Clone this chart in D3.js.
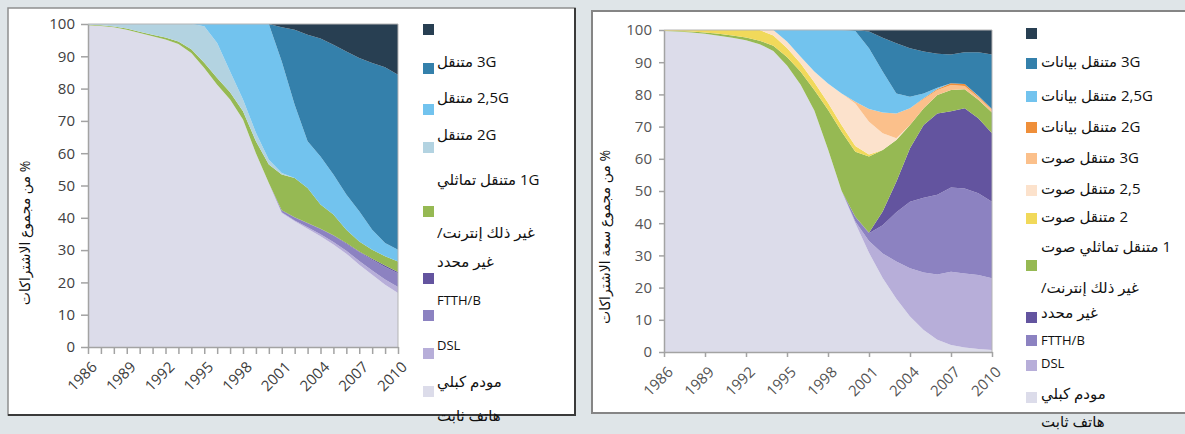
<!DOCTYPE html>
<html>
<head>
<meta charset="utf-8">
<title>Subscriptions share</title>
<script src="https://d3js.org/d3.v7.min.js"></script>
<style>
  body { margin: 0; background: #dfe5e8; }
  svg { display: block; }
</style>
</head>
<body>
<svg id="chart" width="1185" height="434"></svg>
<script>
// ---- data ----
var years = [1986, 1987, 1988, 1989, 1990, 1991, 1992, 1993, 1994, 1995, 1996, 1997, 1998,
             1999, 2000, 2001, 2002, 2003, 2004, 2005, 2006, 2007, 2008, 2009, 2010];
var xLabelYears = [1986, 1989, 1992, 1995, 1998, 2001, 2004, 2007, 2010];
var yTicks = [0, 10, 20, 30, 40, 50, 60, 70, 80, 90, 100];

// left chart: % of subscriptions
var leftFixed = [99.6, 99.4, 99.0, 98.2, 97.2, 96.2, 95.2, 93.8, 91.0, 86.4, 81.2, 76.6, 70.4, 60.0, 50.8, 41.5, 38.9, 36.6, 34.3, 31.7, 28.9, 25.5, 22.4, 19.3, 16.7];
var leftCable = [0, 0, 0, 0, 0, 0, 0, 0, 0, 0, 0, 0, 0, 0, 0, 0.2, 0.3, 0.5, 0.6, 0.8, 0.9, 1.1, 1.3, 1.6, 1.9];
var leftDSL   = [0, 0, 0, 0, 0, 0, 0, 0, 0, 0, 0, 0, 0, 0, 0, 0.5, 0.9, 1.2, 1.6, 2.0, 2.2, 2.8, 3.3, 3.9, 4.2];
var leftFTTH  = [0, 0, 0, 0, 0, 0, 0, 0, 0, 0, 0, 0, 0, 0, 0, 0.1, 0.1, 0.1, 0.1, 0.1, 0.2, 0.2, 0.3, 0.4, 0.4];
var leftOther = [0.2, 0.2, 0.2, 0.4, 0.4, 0.5, 0.6, 0.8, 1.2, 1.6, 2.1, 2.3, 2.6, 3.7, 5.7, 11.1, 12.1, 10.8, 7.5, 6.4, 4.1, 3.1, 2.8, 2.9, 3.3];
var left1G    = [0.2, 0.4, 0.8, 1.4, 2.4, 3.3, 4.2, 5.4, 7.8, 11.3, 10.8, 6.4, 3.6, 2.6, 1.5, 0.5, 0, 0, 0, 0, 0, 0, 0, 0, 0];
var left2G    = [0, 0, 0, 0, 0, 0, 0, 0, 0, 0.7, 5.9, 14.7, 23.4, 33.7, 42.0, 34.5, 22.7, 14.5, 14.9, 12.4, 10.9, 9.3, 6.2, 4.1, 3.6];
var left25G   = [0, 0, 0, 0, 0, 0, 0, 0, 0, 0, 0, 0, 0, 0, 0, 10.6, 23.2, 33.0, 36.5, 40.2, 44.3, 47.5, 51.6, 54.4, 54.2];
var left3G    = [0, 0, 0, 0, 0, 0, 0, 0, 0, 0, 0, 0, 0, 0, 0, 1.0, 1.8, 3.3, 4.5, 6.4, 8.5, 10.5, 12.1, 13.4, 15.7];

// right chart: % of subscription capacity
var rightFixed   = [99.7, 99.5, 99.2, 98.8, 98.2, 97.6, 96.8, 95.6, 93.5, 89.0, 83.0, 75.0, 63.0, 50.0, 40.0, 30.8, 23.0, 16.5, 11.0, 6.8, 3.8, 2.2, 1.4, 0.9, 0.6];
var rightCable   = [0, 0, 0, 0, 0, 0, 0, 0, 0, 0, 0, 0, 0, 0, 0.5, 3.7, 7.6, 11.6, 15.0, 17.9, 20.3, 22.7, 23.0, 23.0, 22.3];
var rightDSL     = [0, 0, 0, 0, 0, 0, 0, 0, 0, 0, 0, 0, 0, 0, 1.5, 2.4, 8.8, 15.3, 20.7, 23.2, 24.7, 26.2, 26.4, 25.4, 23.8];
var rightFTTH    = [0, 0, 0, 0, 0, 0, 0, 0, 0, 0, 0, 0, 0, 0, 0, 0.1, 4.2, 9.5, 16.6, 22.6, 25.3, 23.7, 24.9, 23.3, 21.2];
var rightOther   = [0.1, 0.2, 0.3, 0.4, 0.6, 0.7, 0.9, 1.1, 1.6, 2.6, 4.0, 6.4, 12.2, 18.4, 20.2, 23.7, 19.1, 12.9, 7.2, 5.2, 5.7, 6.6, 5.9, 5.7, 6.5];
var rightVoice1  = [0.2, 0.3, 0.5, 0.8, 1.2, 1.7, 2.3, 3.3, 3.2, 2.8, 2.6, 2.4, 2.2, 2.0, 1.8, 0.6, 0, 0, 0, 0, 0, 0, 0, 0, 0];
var rightVoice2  = [0, 0, 0, 0, 0, 0, 0, 0, 1.7, 2.0, 2.1, 3.3, 6.0, 9.9, 13.2, 10.2, 5.2, 0.6, 0, 0, 0, 0, 0, 0, 0];
var rightVoice25 = [0, 0, 0, 0, 0, 0, 0, 0, 0, 0, 0, 0, 0, 0, 0.5, 4.0, 6.5, 7.7, 5.2, 2.9, 1.6, 1.5, 1.0, 0.7, 0.8];
var rightVoice3G = [0, 0, 0, 0, 0, 0, 0, 0, 0, 0, 0, 0, 0, 0, 0, 0, 0, 0, 0, 0.2, 0.3, 0.6, 0.6, 0.4, 0.3];
var rightData2G  = [0, 0, 0, 0, 0, 0, 0, 0, 0, 3.6, 8.3, 12.9, 16.6, 19.7, 22.0, 18.8, 12.7, 6.2, 3.6, 1.5, 0.4, 0, 0, 0.2, 0];
var rightData25G = [0, 0, 0, 0, 0, 0, 0, 0, 0, 0, 0, 0, 0, 0, 0.3, 5.2, 10.5, 15.6, 15.0, 13.0, 10.5, 8.9, 9.9, 13.5, 16.9];
var rightData3G  = [0, 0, 0, 0, 0, 0, 0, 0, 0, 0, 0, 0, 0, 0, 0, 0.5, 2.4, 4.1, 5.7, 6.7, 7.4, 7.6, 6.9, 6.9, 7.6];

// legend texts (as printed, top to bottom)
var leftLegendLabels = ["3G متنقل", "2,5G متنقل", "2G متنقل", "1G متنقل تماثلي",
                        "غير ذلك إنترنت/", "غير محدد", "FTTH/B", "DSL", "مودم كبلي", "هاتف ثابت"];
var rightLegendLabels = ["3G متنقل بيانات", "2,5G متنقل بيانات", "2G متنقل بيانات", "3G متنقل صوت",
                         "2,5 متنقل صوت", "2 متنقل صوت", "1 متنقل تماثلي صوت", "غير ذلك إنترنت/",
                         "غير محدد", "FTTH/B", "DSL", "مودم كبلي", "هاتف ثابت"];

// colours
var cFixed = "#dcdcea", cCable = "#b7aed9", cDSL = "#8c82c1", cFTTH = "#63549f",
    cOther = "#96b953", c1G = "#b3d3e1", c2G = "#72c3ee", c25G = "#3480ab", c3G = "#283f52",
    cYellow = "#f1d95a", cPeach = "#fce2cc", cLightOrange = "#fbc08b", cOrange = "#ef8f3a";

var leftSeries = [
  {values: leftFixed, color: cFixed}, {values: leftCable, color: cCable},
  {values: leftDSL, color: cDSL}, {values: leftFTTH, color: cFTTH},
  {values: leftOther, color: cOther}, {values: left1G, color: c1G},
  {values: left2G, color: c2G}, {values: left25G, color: c25G}, {values: left3G, color: c3G}
];
var rightSeries = [
  {values: rightFixed, color: cFixed}, {values: rightCable, color: cCable},
  {values: rightDSL, color: cDSL}, {values: rightFTTH, color: cFTTH},
  {values: rightOther, color: cOther}, {values: rightVoice1, color: cYellow},
  {values: rightVoice2, color: cPeach}, {values: rightVoice25, color: cLightOrange},
  {values: rightVoice3G, color: cOrange}, {values: rightData2G, color: c2G},
  {values: rightData25G, color: c25G}, {values: rightData3G, color: c3G}
];

var svg = d3.select("#chart");
var sansFont = "'Open Sans', 'DejaVu Sans', sans-serif";

svg.append("rect").attr("width", 1185).attr("height", 434).attr("fill", "#dfe5e8");

// panels
svg.append("rect").attr("x", 8).attr("y", 8).attr("width", 567).attr("height", 407)
  .attr("fill", "#fff").attr("stroke", "#8e8e8e").attr("stroke-width", 1.5);
svg.append("path").attr("d", "M575,8V415H8").attr("fill", "none")
  .attr("stroke", "#3a3a3a").attr("stroke-width", 2);
svg.append("rect").attr("x", 592).attr("y", 11).attr("width", 610).attr("height", 402)
  .attr("fill", "#fff").attr("stroke", "#858585").attr("stroke-width", 2);

function drawChart(opt) {
  var x = d3.scaleLinear().domain([1986, 2010]).range([opt.left, opt.right]);
  var y = d3.scaleLinear().domain([0, 100]).range([opt.bottom, opt.top]);

  var keys = opt.series.map(function(s, i) { return "s" + i; });
  var rows = years.map(function(yr, i) {
    var r = {year: yr};
    opt.series.forEach(function(s, k) { r["s" + k] = s.values[i]; });
    return r;
  });
  var layers = d3.stack().keys(keys)(rows);

  var area = d3.area()
    .x(function(d) { return x(d.data.year); })
    .y0(function(d) { return y(d[0]); })
    .y1(function(d) { return y(d[1]); });

  var g = svg.append("g");
  g.selectAll("path.layer").data(layers).enter().append("path")
    .attr("class", "layer")
    .attr("d", area)
    .attr("fill", function(d, i) { return opt.series[i].color; });

  // plot frame (top and right)
  g.append("path")
    .attr("d", "M" + opt.left + "," + opt.top + "H" + opt.right + "V" + opt.bottom)
    .attr("fill", "none").attr("stroke", "#b5b5b5").attr("stroke-width", 1);

  // y axis
  var yAxis = g.append("g")
    .attr("transform", "translate(" + opt.left + ",0)")
    .call(d3.axisLeft(y).tickValues(yTicks).tickSize(opt.yTick).tickSizeOuter(0).tickPadding(opt.yPad));
  yAxis.selectAll("path, line").attr("stroke", "#a3a3a3").attr("stroke-width", 1.5);
  yAxis.selectAll("text").attr("font-family", sansFont).attr("font-size", 15)
    .attr("fill", opt.labelColor);

  // x axis: ticks from the axis, rotated year labels drawn on their own
  var xAxis = g.append("g")
    .attr("transform", "translate(0," + opt.bottom + ")")
    .call(d3.axisBottom(x).tickValues(opt.xTickYears).tickSize(opt.xTick).tickSizeOuter(0)
      .tickFormat(""));
  xAxis.selectAll("path, line").attr("stroke", "#a3a3a3").attr("stroke-width", 1.5);

  g.selectAll("text.xlabel").data(xLabelYears).enter().append("text")
    .attr("class", "xlabel")
    .attr("transform", function(d) {
      return "translate(" + (x(d) + 10) + "," + (opt.bottom + 21) + ") rotate(-45)";
    })
    .attr("text-anchor", "end")
    .attr("font-family", sansFont).attr("font-size", 15).attr("fill", opt.labelColor)
    .text(function(d) { return d; });

  // y title
  g.append("text")
    .attr("transform", "translate(" + opt.titleX + "," + opt.titleY + ") rotate(-90)")
    .attr("direction", "rtl").attr("text-anchor", "middle")
    .attr("font-family", sansFont).attr("font-size", 14).attr("fill", "#111")
    .text(opt.title);

  // legend
  var lg = svg.append("g");
  lg.selectAll("rect").data(opt.legendColors).enter().append("rect")
    .attr("x", opt.legendX).attr("y", function(d, i) { return opt.legendSquareY[i]; })
    .attr("width", 11).attr("height", 11)
    .attr("fill", function(d) { return d; });
  lg.selectAll("text").data(opt.legendLabels).enter().append("text")
    .attr("x", opt.legendTextX)
    .attr("y", function(d, i) { return opt.legendTextY[i] + 5; })
    .attr("direction", "rtl").attr("text-anchor", "end")
    .attr("font-family", sansFont)
    .attr("font-size", function(d) { return /[\u0600-\u06FF]/.test(d) ? 15 : 13; })
    .attr("fill", "#111")
    .text(function(d) { return d; });
}

drawChart({
  series: leftSeries, left: 88, right: 398, top: 24, bottom: 347,
  xTickYears: years, xTick: 7, yTick: 7, yPad: 6, labelColor: "#404040",
  title: "% من مجموع الاشتراكات", titleX: 30, titleY: 233,
  legendX: 423, legendTextX: 437,
  legendColors: [c3G, c25G, c2G, c1G, cOther, cFTTH, cDSL, cCable, cFixed],
  legendSquareY: [24, 63, 104, 142, 206, 273, 310, 348, 386],
  legendLabels: leftLegendLabels,
  legendTextY: [62, 98, 135, 180, 233, 262, 300, 345, 382, 416]
});

drawChart({
  series: rightSeries, left: 664, right: 992, top: 30, bottom: 352,
  xTickYears: xLabelYears, xTick: 5, yTick: 5, yPad: 7, labelColor: "#555",
  title: "% من مجموع سعة الاشتراكات", titleX: 610, titleY: 237,
  legendX: 1026, legendTextX: 1041,
  legendColors: [c3G, c25G, c2G, cOrange, cLightOrange, cPeach, cYellow, cOther, cFTTH, cDSL, cCable, cFixed],
  legendSquareY: [28, 58, 91, 122, 153, 185, 213, 260, 312, 335, 360, 392],
  legendLabels: rightLegendLabels,
  legendTextY: [62, 96, 127, 158, 189, 217, 247, 288, 313, 340, 363, 394, 422]
});
</script>
</body>
</html>
